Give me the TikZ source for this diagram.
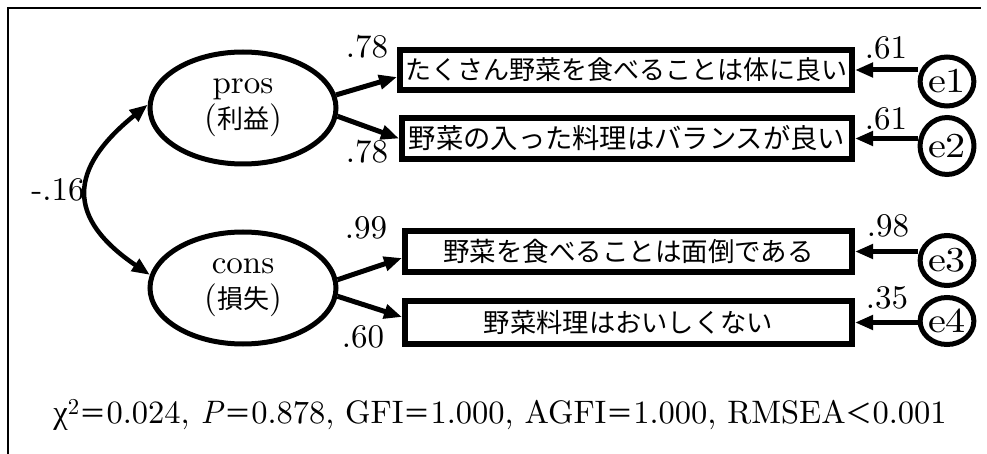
\documentclass[tikz,border=0pt]{standalone}
\usepackage{fontspec}
\setmainfont{lmroman10-regular.otf}[ItalicFont=lmroman10-italic.otf]
\newfontfamily\jp{Noto Sans CJK JP}
\newfontfamily\grk{Liberation Serif}
\usetikzlibrary{arrows.meta,shapes.geometric}
\begin{document}
\begin{tikzpicture}[x=1pt,y=-1pt,
  tip/.tip={Triangle[length=18pt,width=14pt]},
  lat/.style={ellipse,draw,line width=5pt,minimum width=186pt,minimum height=112pt,inner sep=0pt,align=center,font=\fontsize{33}{35}\selectfont},
  obs/.style={rectangle,draw,line width=6pt,inner sep=0pt},
  err/.style={ellipse,draw,line width=5pt,minimum width=50pt,inner sep=0pt,font=\fontsize{35}{35}\selectfont},
  pth/.style={line width=5pt,-tip},
  coef/.style={font=\fontsize{33}{33}\selectfont,inner sep=0pt},
]
\useasboundingbox (0,0) rectangle (987,454);
\draw[line width=2.7pt] (8,454) -- (8,8) -- (981,8);

\node[lat] (pros) at (243,108) {pros\\({\jp\fontsize{26}{26}\selectfont 利益})};
\node[lat] (cons) at (243,288) {cons\\({\jp\fontsize{26}{26}\selectfont 損失})};

\node[obs,minimum width=452pt,minimum height=40pt,font=\jp\fontsize{26}{26}\selectfont] (b1) at (626,70) {たくさん野菜を食べることは体に良い};
\node[obs,minimum width=450pt,minimum height=41pt,font=\jp\fontsize{27.3}{27.3}\selectfont] (b2) at (627,138.5) {野菜の入った料理はバランスが良い};
\node[obs,minimum width=447pt,minimum height=41pt,font=\jp\fontsize{26.5}{26.5}\selectfont] (b3) at (628.5,251.5) {野菜を食べることは面倒である};
\node[obs,minimum width=447pt,minimum height=43pt,font=\jp\fontsize{26.3}{26.3}\selectfont] (b4) at (628.5,322.5) {野菜料理はおいしくない};

\node[err,minimum height=49pt] (e1) at (947,81.5) {\scalebox{1.15}[1]{e1}};
\node[err,minimum height=57pt] (e2) at (947,146) {\scalebox{1.15}[1]{e2}};
\node[err,minimum height=50pt] (e3) at (947,260.5) {\scalebox{1.15}[1]{e3}};
\node[err,minimum height=47pt] (e4) at (947,321) {\scalebox{1.15}[1]{e4}};

\draw[pth] (pros.8) -- ([yshift=-7pt]b1.west);
\draw[pth] (pros.-5) -- (b2.west);
\draw[pth] (cons.5) -- ([yshift=-6.5pt]b3.west);
\draw[pth] (cons.-5) -- ([yshift=5.5pt]b4.west);

\draw[pth] (e1.west |- b1.east) -- (b1.east);
\draw[pth] (e2.west |- b2.east) -- (b2.east);
\draw[pth] (e3.west |- b3.east) -- (b3.east);
\draw[pth] (e4.west |- b4.east) -- (b4.east);

\draw[line width=4.5pt,tip-tip] (pros.178) .. controls (68,169) and (66,218) .. (cons.172);

\node[coef] (c1) at (367,47) {.78};
\node[coef] (c2) at (367,152) {.78};
\node[coef] (c3) at (366,228) {.99};
\node[coef] (c4) at (363,337) {.60};
\node[coef] (d1) at (886,48) {.61};
\node[coef] (d2) at (886,119) {.61};
\node[coef] (d3) at (888,226) {.98};
\node[coef] (d4) at (887,298) {.35};
\node[coef] (r) at (58,190) {-.16};

\node[font=\fontsize{32.5}{32.5}\selectfont,inner sep=0pt] (fit) at (500,415)
  {{\grk χ}\textsuperscript{2}{\jp\fontsize{27}{27}\selectfont ＝}0.024, \textit{P}{\jp\fontsize{27}{27}\selectfont ＝}0.878, GFI{\jp\fontsize{27}{27}\selectfont ＝}1.000, AGFI{\jp\fontsize{27}{27}\selectfont ＝}1.000, RMSEA{\jp\fontsize{27}{27}\selectfont ＜}0.001};
\end{tikzpicture}
\end{document}
